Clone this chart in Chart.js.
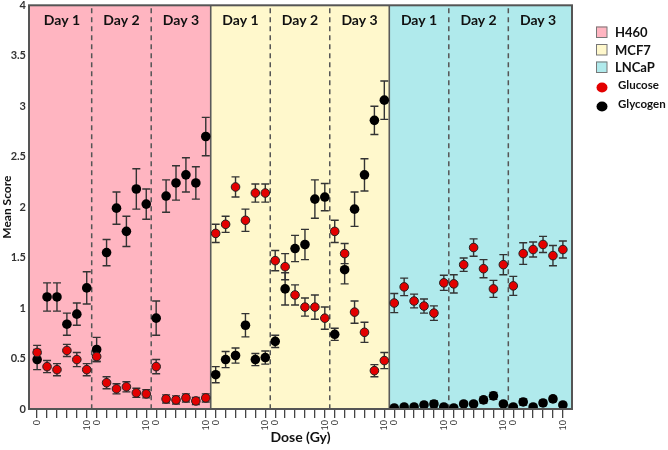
<!DOCTYPE html>
<html>
<head>
<meta charset="utf-8">
<script src="https://cdn.jsdelivr.net/npm/chart.js@4"></script>
<style>
  html, body { margin: 0; padding: 0; background: #fff; }
</style>
</head>
<body>
<canvas id="myChart" width="668" height="450"></canvas>
<script>
// Categories
const cellLines = ['H460', 'MCF7', 'LNCaP'];
const days = ['Day 1', 'Day 2', 'Day 3'];
const doses = [0, 2, 4, 6, 8, 10];
const measures = ['Glucose', 'Glycogen'];

// Mean scores, 18 values per cell line (Day 1 doses, Day 2 doses, Day 3 doses)
const h460Glucose     = [0.56, 0.42, 0.39, 0.58, 0.49, 0.39,  0.52, 0.26, 0.20, 0.22, 0.16, 0.15,  0.42, 0.10, 0.09, 0.11, 0.08, 0.11];
const h460GlucoseErr  = [0.07, 0.06, 0.06, 0.06, 0.07, 0.06,  0.05, 0.06, 0.05, 0.05, 0.045, 0.04, 0.07, 0.04, 0.04, 0.04, 0.035, 0.04];
const h460Glycogen    = [0.49, 1.11, 1.11, 0.84, 0.94, 1.20,  0.59, 1.55, 1.99, 1.76, 2.18, 2.03,  0.90, 2.11, 2.24, 2.32, 2.24, 2.70];
const h460GlycogenErr = [0.10, 0.14, 0.14, 0.11, 0.11, 0.16,  0.12, 0.13, 0.16, 0.15, 0.20, 0.15,  0.17, 0.16, 0.17, 0.17, 0.16, 0.19];

const mcf7Glucose     = [1.74, 1.83, 2.20, 1.87, 2.14, 2.14,  1.47, 1.41, 1.13, 1.01, 1.01, 0.90,  1.76, 1.54, 0.96, 0.76, 0.38, 0.48];
const mcf7GlucoseErr  = [0.09, 0.08, 0.10, 0.11, 0.09, 0.09,  0.10, 0.13, 0.10, 0.09, 0.12, 0.11,  0.11, 0.10, 0.11, 0.10, 0.06, 0.08];
const mcf7Glycogen    = [0.34, 0.49, 0.53, 0.83, 0.49, 0.51,  0.67, 1.19, 1.59, 1.63, 2.08, 2.10,  0.74, 1.38, 1.98, 2.32, 2.86, 3.06];
const mcf7GlycogenErr = [0.08, 0.08, 0.075, 0.115, 0.06, 0.065, 0.06, 0.16, 0.13, 0.15, 0.19, 0.135, 0.06, 0.14, 0.17, 0.16, 0.14, 0.19];

const lncapGlucose     = [1.05, 1.21, 1.07, 1.02, 0.95, 1.25,  1.24, 1.43, 1.60, 1.39, 1.19, 1.43,  1.22, 1.54, 1.58, 1.63, 1.52, 1.58];
const lncapGlucoseErr  = [0.095, 0.087, 0.068, 0.07, 0.072, 0.075, 0.09, 0.066, 0.086, 0.09, 0.084, 0.10, 0.094, 0.107, 0.074, 0.08, 0.10, 0.084];
const lncapGlycogen    = [0.01, 0.02, 0.02, 0.04, 0.05, 0.02,  0.01, 0.05, 0.05, 0.09, 0.13, 0.05,  0.02, 0.07, 0.02, 0.06, 0.10, 0.04];
const lncapGlycogenErr = [0.01, 0.01, 0.01, 0.015, 0.03, 0.01, 0.01, 0.02, 0.02, 0.03, 0.035, 0.02, 0.01, 0.03, 0.01, 0.025, 0.025, 0.015];

// Styles
const panelColors = ['#FFB5C1', '#FFF8CC', '#B0EAEC'];
const pointColors = ['#E30000', '#000000'];
const FONT = 'Lato, "Open Sans", sans-serif';

const perLine = days.length * doses.length;
const total = cellLines.length * perLine;

const glucose = [...h460Glucose, ...mcf7Glucose, ...lncapGlucose];
const glucoseErr = [...h460GlucoseErr, ...mcf7GlucoseErr, ...lncapGlucoseErr];
const glycogen = [...h460Glycogen, ...mcf7Glycogen, ...lncapGlycogen];
const glycogenErr = [...h460GlycogenErr, ...mcf7GlycogenErr, ...lncapGlycogenErr];

const toPoints = (vals, errs) => vals.map((v, i) => ({ x: i, y: v, err: errs[i] }));

// Backgrounds, day separators, labels and error bars
const panelPlugin = {
  id: 'panels',
  beforeDatasetsDraw(chart) {
    const { ctx, chartArea: a, scales: { x, y } } = chart;
    ctx.save();
    // panel backgrounds
    cellLines.forEach((name, p) => {
      const x0 = p === 0 ? a.left : x.getPixelForValue(p * perLine - 0.5);
      const x1 = p === cellLines.length - 1 ? a.right : x.getPixelForValue((p + 1) * perLine - 0.5);
      ctx.fillStyle = panelColors[p];
      ctx.fillRect(x0, a.top, x1 - x0, a.bottom - a.top);
    });
    // dashed day lines
    ctx.strokeStyle = '#555';
    ctx.lineWidth = 1.5;
    ctx.setLineDash([5, 4]);
    cellLines.forEach((name, p) => {
      for (let d = 1; d < days.length; d++) {
        const px = x.getPixelForValue(p * perLine + d * doses.length - 0.5);
        ctx.beginPath();
        ctx.moveTo(px, a.top + 3);
        ctx.lineTo(px, a.bottom);
        ctx.stroke();
      }
    });
    ctx.setLineDash([]);
    // solid panel separators
    ctx.lineWidth = 1.6;
    ctx.strokeStyle = '#5a5a5a';
    for (let p = 1; p < cellLines.length; p++) {
      const px = x.getPixelForValue(p * perLine - 0.5);
      ctx.beginPath();
      ctx.moveTo(px, a.top);
      ctx.lineTo(px, a.bottom);
      ctx.stroke();
    }
    // day labels
    ctx.fillStyle = '#111';
    ctx.font = 'bold 14px ' + FONT;
    ctx.textAlign = 'center';
    ctx.textBaseline = 'middle';
    cellLines.forEach((name, p) => {
      days.forEach((day, d) => {
        const cx = x.getPixelForValue(p * perLine + d * doses.length + 2.5);
        ctx.fillText(day, cx, a.top + 15);
      });
    });
    // error bars
    ctx.strokeStyle = '#333';
    ctx.lineWidth = 1.4;
    chart.data.datasets.forEach(ds => {
      ds.data.forEach(pt => {
        const px = x.getPixelForValue(pt.x);
        const yTop = y.getPixelForValue(pt.y + pt.err);
        const yBot = y.getPixelForValue(Math.max(0, pt.y - pt.err));
        const cap = 4;
        ctx.beginPath();
        ctx.moveTo(px, yTop); ctx.lineTo(px, yBot);
        ctx.moveTo(px - cap, yTop); ctx.lineTo(px + cap, yTop);
        ctx.moveTo(px - cap, yBot); ctx.lineTo(px + cap, yBot);
        ctx.stroke();
      });
    });
    ctx.restore();
  },
  afterDatasetsDraw(chart) {
    const { ctx, chartArea: a } = chart;
    ctx.save();
    ctx.strokeStyle = '#555';
    ctx.lineWidth = 2;
    ctx.strokeRect(a.left, a.top, a.right - a.left, a.bottom - a.top);
    ctx.restore();
  },
  afterDraw(chart) {
    // legend
    const { ctx } = chart;
    ctx.save();
    ctx.textAlign = 'left';
    ctx.textBaseline = 'middle';
    ctx.fillStyle = '#111';
    cellLines.forEach((name, i) => {
      const cy = 32 + i * 17.5;
      ctx.fillStyle = panelColors[i];
      ctx.fillRect(596, cy - 5.5, 11, 11);
      ctx.strokeStyle = '#777';
      ctx.lineWidth = 1;
      ctx.strokeRect(596.5, cy - 5, 10.5, 10.5);
      ctx.fillStyle = '#111';
      ctx.font = 'bold 13px ' + FONT;
      ctx.fillText(name, 615, cy + 1);
    });
    measures.forEach((name, i) => {
      const cy = 86 + i * 19;
      ctx.fillStyle = pointColors[i];
      ctx.beginPath();
      ctx.ellipse(602, cy + 1.5, 5.5, 5, 0, 0, Math.PI * 2);
      ctx.fill();
      ctx.fillStyle = '#111';
      ctx.font = 'bold 11.5px ' + FONT;
      ctx.fillText(name, 618, cy - 1);
    });
    ctx.restore();
  }
};

const ctx = document.getElementById('myChart').getContext('2d');

const myChart = new Chart(ctx, {
  type: 'scatter',
  data: {
    datasets: [{
      label: measures[0],
      data: toPoints(glucose, glucoseErr),
      backgroundColor: pointColors[0],
      borderColor: '#222',
      borderWidth: 1,
      pointRadius: 4.3
    }, {
      label: measures[1],
      data: toPoints(glycogen, glycogenErr),
      backgroundColor: pointColors[1],
      borderColor: '#000',
      borderWidth: 0,
      pointRadius: 4.8,
      clip: { left: 10, right: 10, top: 10, bottom: 0 }
    }]
  },
  options: {
    responsive: false,
    animation: false,
    layout: { padding: { top: 5, right: 96, left: 0, bottom: 0 } },
    plugins: {
      legend: { display: false },
      tooltip: { enabled: false }
    },
    scales: {
      x: {
        type: 'linear',
        min: -0.82,
        max: 53.92,
        afterBuildTicks: scale => {
          scale.ticks = Array.from({ length: total }, (_, i) => ({ value: i }));
        },
        afterFit: scale => { scale.height = 41; },
        ticks: {
          autoSkip: false,
          minRotation: 90,
          maxRotation: 90,
          padding: 2,
          color: '#333',
          font: { size: 9, family: FONT },
          callback: value => {
            const d = doses[value % doses.length];
            return (d === doses[0] || d === doses[doses.length - 1]) ? String(d) : '';
          }
        },
        grid: { drawOnChartArea: false, drawTicks: true, tickLength: 9, color: '#444', lineWidth: 1.3 },
        border: { display: false },
        title: {
          display: true,
          text: 'Dose (Gy)',
          color: '#111',
          font: { size: 14, weight: 'bold', family: FONT },
          padding: { top: 0, bottom: 4 }
        }
      },
      y: {
        min: 0,
        max: 4,
        afterFit: scale => { scale.width = 29; scale.paddingTop = 0; scale.paddingBottom = 0; },
        ticks: {
          stepSize: 0.5,
          padding: 3,
          color: '#333',
          font: { size: 11, weight: 'bold', family: FONT },
          callback: value => String(value)
        },
        grid: { drawOnChartArea: false, drawTicks: false },
        border: { display: false },
        title: {
          display: true,
          text: 'Mean Score',
          color: '#111',
          font: { size: 12, weight: 'bold', family: FONT },
          padding: { top: 0, bottom: 2 }
        }
      }
    }
  },
  plugins: [panelPlugin]
});
</script>
</body>
</html>
